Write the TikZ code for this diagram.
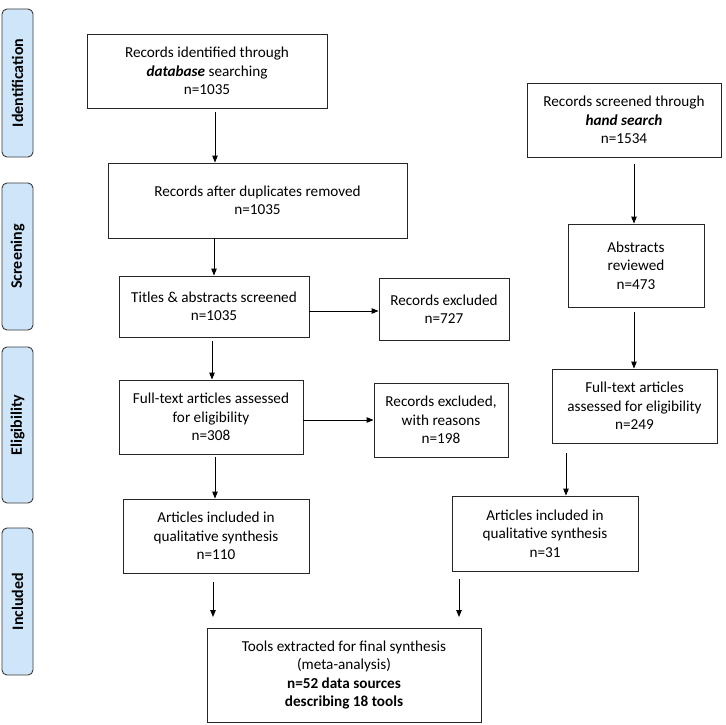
\documentclass[tikz,border=0pt]{standalone}
\usepackage{fontspec}
\setmainfont{Carlito}
\usetikzlibrary{arrows.meta,positioning}
\definecolor{sideblue}{HTML}{CFE6FA}
\definecolor{sideedge}{HTML}{3A3A3A}
\tikzset{
  box/.style={draw=black!85, line width=0.9pt, align=center, inner sep=2pt,
    font=\fontsize{15.2}{18.3}\selectfont},
  side/.style={draw=sideedge, fill=sideblue, line width=0.9pt, rounded corners=5pt,
    minimum width=31pt, font=\bfseries\fontsize{16}{18}\selectfont},
  arr/.style={-{Triangle[length=7pt,width=5.5pt]}, line width=0.9pt}
}
\begin{document}
\begin{tikzpicture}[x=1pt,y=-1pt]
\useasboundingbox (0,0) rectangle (726,725);
% side labels
\node[side, minimum height=148pt] (s1) at (17.5,83) {\rotatebox{90}{Identification}};
\node[side, minimum height=147pt] (s2) at (17.5,256.5) {\rotatebox{90}{Screening}};
\node[side, minimum height=156pt] (s3) at (17.5,425) {\rotatebox{90}{Eligibility}};
\node[side, minimum height=147pt] (s4) at (17.5,601.5) {\rotatebox{90}{Included}};
% left column
\node[box, minimum width=240pt, minimum height=74pt] (b1) at (207,71)
  {Records identified through\\\textbf{\textit{database}} searching\\n=1035};
\node[box, minimum width=299pt, minimum height=75pt] (b2) at (257.5,200.5)
  {Records after duplicates removed\\n=1035};
\node[box, minimum width=190pt, minimum height=61pt] (b3) at (214,306.5)
  {Titles \& abstracts screened\\n=1035};
\node[box, minimum width=130pt, minimum height=62pt] (e1) at (444,309)
  {Records excluded\\n=727};
\node[box, minimum width=184pt, minimum height=74pt] (b4) at (211,417)
  {Full-text articles assessed\\for eligibility\\n=308};
\node[box, minimum width=134pt, minimum height=74pt] (e2) at (441,420)
  {Records excluded,\\with reasons\\n=198};
\node[box, minimum width=186pt, minimum height=74pt] (i1) at (216,536)
  {Articles included in\\qualitative synthesis\\n=110};
% right column
\node[box, minimum width=194pt, minimum height=74pt] (h1) at (624,120)
  {Records screened through\\\textbf{\textit{hand search}}\\n=1534};
\node[box, minimum width=136pt, minimum height=83pt] (h2) at (636,265.5)
  {Abstracts\\reviewed\\n=473};
\node[box, minimum width=165pt, minimum height=74pt] (h3) at (634.5,406)
  {Full-text articles\\assessed for eligibility\\n=249};
\node[box, minimum width=186pt, minimum height=75pt] (i2) at (545,533.5)
  {Articles included in\\qualitative synthesis\\n=31};
% final
\node[box, minimum width=274pt, minimum height=94pt] (f) at (344,675)
  {Tools extracted for final synthesis\\(meta-analysis)\\\textbf{n=52 data sources}\\\textbf{describing 18 tools}};
% arrows
\coordinate (fl) at (213,617);
\coordinate (fr) at (459,617);
\draw[arr] (b1.south -| 215,0) ++(0,4) -- (b2.north -| 215,0);
\draw[arr] (b2.south -| 214,0) -- (b3.north -| 214,0);
\draw[arr] (b3.south -| 212,0) ++(0,4) -- (b4.north -| 212,0);
\draw[arr] (b4.south -| 215,0) ++(0,3) -- (i1.north -| 215,0);
\draw[arr] (b3.east |- 0,311) -- (e1.west |- 0,311);
\draw[arr] (b4.east |- 0,420) -- (e2.west |- 0,420);
\draw[arr] (h1.south -| 634,0) ++(0,7) -- (h2.north -| 634,0);
\draw[arr] (h2.south -| 634,0) ++(0,5) -- (h3.north -| 634,0);
\draw[arr] (h3.south -| 566,0) ++(0,10) -- (i2.north -| 566,0);
\draw[arr] (i1.south -| 213,0) ++(0,9) -- (fl);
\draw[arr] (i2.south -| 459,0) ++(0,8) -- (fr);
\end{tikzpicture}
\end{document}
